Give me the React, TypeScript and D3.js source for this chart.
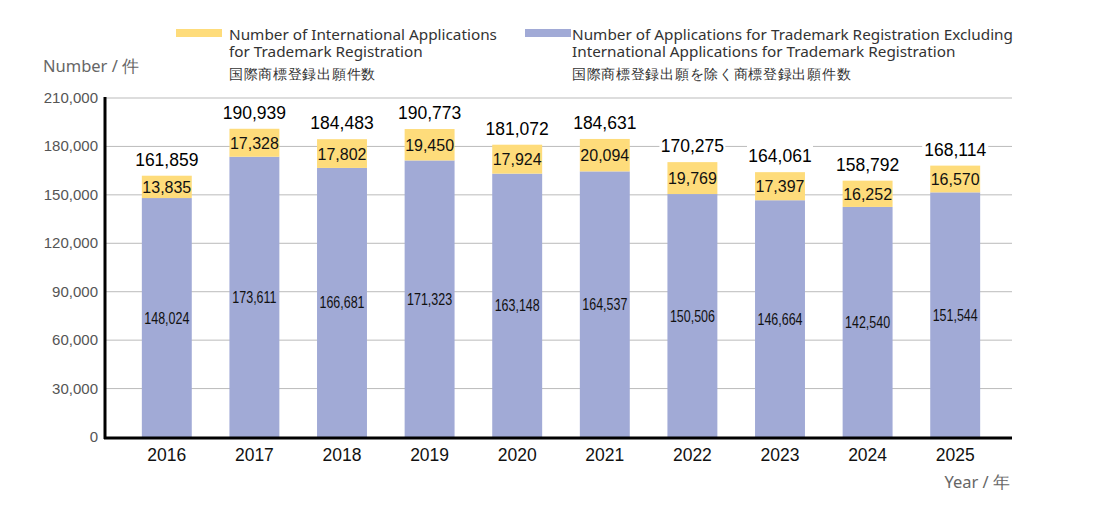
import * as d3 from "d3"

const years = ["2016", "2017", "2018", "2019", "2020", "2021", "2022", "2023", "2024", "2025"]
const domestic = [148024, 173611, 166681, 171323, 163148, 164537, 150506, 146664, 142540, 151544]
const international = [13835, 17328, 17802, 19450, 17924, 20094, 19769, 17397, 16252, 16570]
const yTicks = [0, 30000, 60000, 90000, 120000, 150000, 180000, 210000]

const W = 1094
const H = 507
const YELLOW = "#FEDC7B"
const BLUE = "#A1AAD6"

const fmt = d3.format(",")

export default function App() {
  const x = d3.scaleBand().domain(years).range([123, 999]).paddingInner(0.43).paddingOuter(0.215)
  const y = d3.scaleLinear().domain([0, 210000]).range([437, 98])
  const bw = x.bandwidth()

  const legendFont = "'Noto Sans', 'Open Sans', sans-serif"
  const numFont = "'Liberation Sans', Arial, sans-serif"

  return (
    <div style={{ position: "absolute", left: 0, top: 0 }}>
      <svg width={W} height={H} style={{ display: "block", background: "#fff" }}>
        {/* legend */}
        <g fontFamily={legendFont} fill="#333">
          <rect x={176} y={29} width={46} height={8} fill={YELLOW} />
          <text x={229} y={40} fontSize={15.3}>Number of International Applications</text>
          <text x={229} y={57} fontSize={15.3}>for Trademark Registration</text>
          <text x={229} y={79} fontSize={13.5} letterSpacing={0.7}>国際商標登録出願件数</text>
          <rect x={525} y={29} width={46} height={8} fill={BLUE} />
          <text x={572} y={40} fontSize={15.3}>Number of Applications for Trademark Registration Excluding</text>
          <text x={572} y={57} fontSize={15.3}>International Applications for Trademark Registration</text>
          <text x={572} y={79} fontSize={13.5} letterSpacing={0.7}>国際商標登録出願を除く商標登録出願件数</text>
        </g>

        <text x={43} y={72} fontFamily={legendFont} fontSize={16.5} fill="#666">Number / 件</text>
        <text x={1010} y={488} textAnchor="end" fontFamily={legendFont} fontSize={16.5} fill="#666">Year / 年</text>

        {/* gridlines */}
        {yTicks.filter((t) => t > 0).map((t) => (
          <line key={t} x1={106} x2={1012} y1={y(t)} y2={y(t)} stroke="#bbb" strokeWidth={1} />
        ))}

        {/* y tick labels */}
        <g fontFamily={numFont} fontSize={15} fill="#555" textAnchor="end">
          {yTicks.map((t) => (
            <text key={t} x={98} y={y(t) + 5}>{fmt(t)}</text>
          ))}
        </g>

        {/* bars */}
        {years.map((yr, i) => {
          const x0 = x(yr) ?? 0
          const cx = x0 + bw / 2
          const d = domestic[i]
          const tot = d + international[i]
          return (
            <g key={yr}>
              <rect x={x0} y={y(d)} width={bw} height={y(0) - y(d)} fill={BLUE} />
              <rect x={x0} y={y(tot)} width={bw} height={y(d) - y(tot)} fill={YELLOW} />
              <text
                transform={`translate(${cx},${y(d / 2) + 6}) scale(0.78,1)`}
                textAnchor="middle"
                fontFamily={numFont}
                fontSize={16}
                fill="#111"
              >
                {fmt(d)}
              </text>
              <text x={cx} y={(y(d) + y(tot)) / 2 + 6} textAnchor="middle" fontFamily={numFont} fontSize={16} fill="#111">{fmt(international[i])}</text>
              <rect x={cx - 33} y={y(tot) - 27} width={66} height={20} fill="#fff" />
              <text x={cx} y={y(tot) - 10} textAnchor="middle" fontFamily={numFont} fontSize={17.5} fill="#000">{fmt(tot)}</text>
            </g>
          )
        })}

        {/* axes */}
        <line x1={105} x2={105} y1={97} y2={439} stroke="#000" strokeWidth={3} />
        <line x1={104} x2={1012} y1={438} y2={438} stroke="#000" strokeWidth={3} />

        {/* x labels */}
        <g fontFamily={numFont} fontSize={17.5} fill="#111" textAnchor="middle">
          {years.map((yr) => (
            <text key={yr} x={(x(yr) ?? 0) + bw / 2} y={461}>{yr}</text>
          ))}
        </g>
      </svg>
    </div>
  )
}
